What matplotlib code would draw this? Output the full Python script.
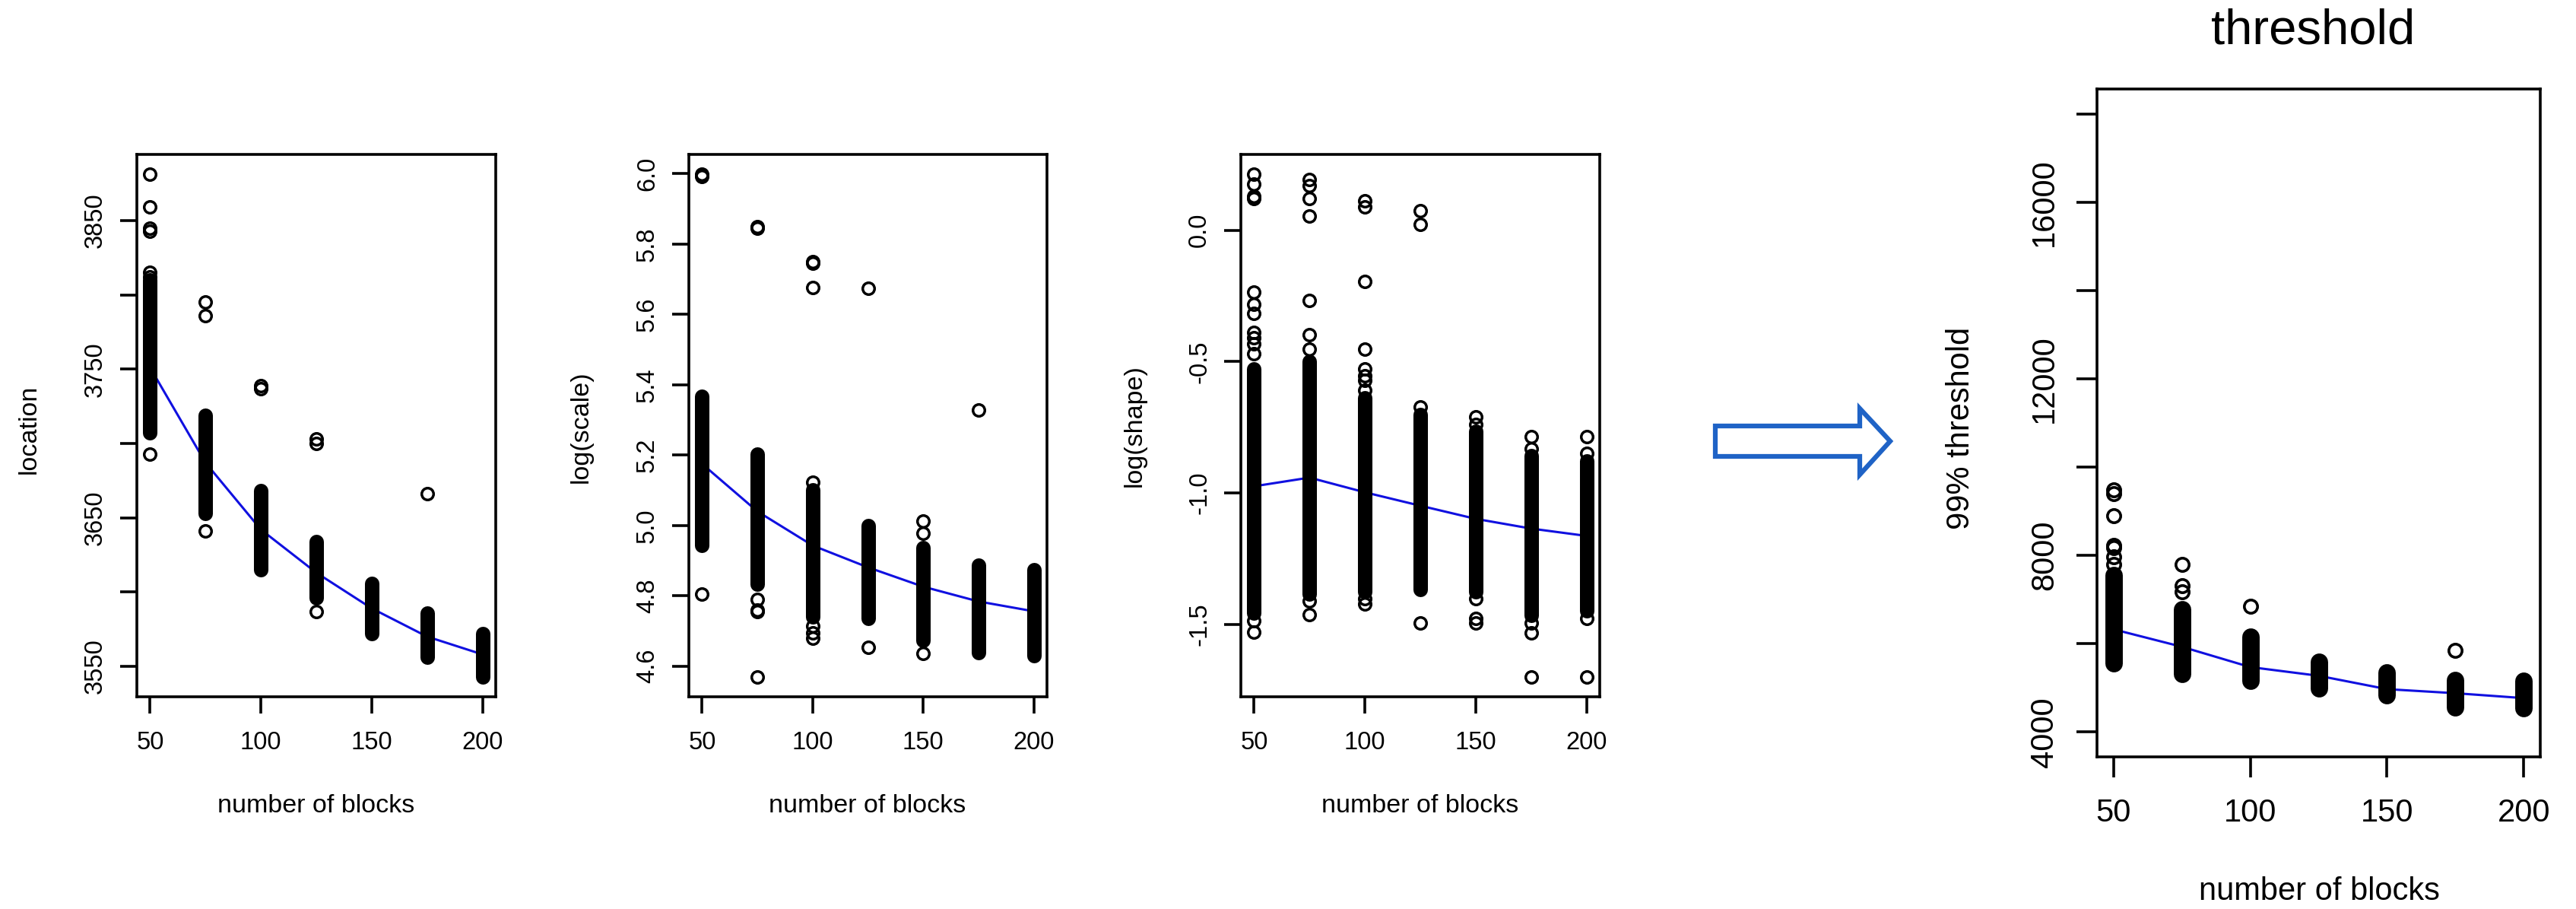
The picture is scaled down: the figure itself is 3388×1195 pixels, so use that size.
"""Parameter estimates vs number of blocks, plus the derived 99% threshold."""
import matplotlib.pyplot as plt
from matplotlib.patches import Polygon

plt.rcParams['font.family'] = ['Liberation Sans', 'DejaVu Sans']

W, H, DPI = 3388, 1195, 100

blocks = [50, 75, 100, 125, 150, 175, 200]

# ---- location ----
loc_mean = [3751, 3687, 3642, 3613, 3589, 3570, 3558]
loc_core_hi = [3810, 3719, 3668, 3634, 3606, 3586, 3572]
loc_core_lo = [3707, 3653, 3615, 3596, 3572, 3556, 3543]
loc_extra = [[3881, 3859, 3845, 3843, 3815, 3812, 3693],
             [3795, 3786, 3641],
             [3739, 3737],
             [3703, 3700, 3587],
             [],
             [3666],
             []]

# ---- log(scale) ----
scale_mean = [5.175, 5.04, 4.943, 4.881, 4.826, 4.784, 4.756]
scale_core_hi = [5.368, 5.202, 5.102, 5.000, 4.936, 4.888, 4.874]
scale_core_lo = [4.944, 4.833, 4.740, 4.736, 4.674, 4.639, 4.629]
scale_extra = [[5.998, 5.992, 4.805],
               [5.850, 5.845, 4.790, 4.760, 4.755, 4.570],
               [5.750, 5.745, 5.677, 5.123, 4.715, 4.694, 4.680],
               [5.675, 4.653],
               [5.013, 4.978, 4.636],
               [5.328],
               []]

# ---- log(shape) ----
shape_mean = [-0.975, -0.942, -0.998, -1.049, -1.099, -1.136, -1.164]
shape_core_hi = [-0.527, -0.499, -0.638, -0.702, -0.767, -0.859, -0.878]
shape_core_lo = [-1.459, -1.385, -1.376, -1.367, -1.376, -1.468, -1.450]
shape_extra = [[0.212, 0.176, 0.130, 0.120, -0.236, -0.281, -0.318, -0.388,
                -0.410, -0.434, -0.471, -1.487, -1.530],
               [0.194, 0.170, 0.120, 0.055, -0.268, -0.397, -0.453,
                -1.413, -1.463],
               [0.111, 0.089, -0.194, -0.453, -0.527, -0.554, -0.573,
                -0.610, -1.404, -1.423],
               [0.074, 0.022, -0.674, -1.496],
               [-0.711, -0.739, -1.404, -1.478, -1.496],
               [-0.785, -0.831, -1.496, -1.533, -1.700],
               [-0.785, -0.850, -1.478, -1.700]]

# ---- 99% threshold ----
thr_mean = [6328, 5933, 5473, 5276, 4973, 4881, 4770]
thr_core_hi = [7560, 6775, 6157, 5592, 5355, 5172, 5155]
thr_core_lo = [5550, 5315, 5157, 4986, 4828, 4560, 4540]
thr_extra = [[9484, 9392, 8892, 8234, 8169, 7971, 7800],
             [7800, 7314, 7182],
             [6854],
             [],
             [],
             [5845],
             []]


def rect(x0, y0, x1, y1):
    """pixel box (top-left origin) -> figure fraction [l, b, w, h]"""
    return [x0 / W, 1 - y1 / H, (x1 - x0) / W, (y1 - y0) / H]


def r_lim(vals, pad=0.04):
    lo, hi = min(vals), max(vals)
    r = hi - lo
    return lo - pad * r, hi + pad * r


def panel(box, mean, hi, lo, extra, yticks, ylabels, ylim=None,
          big=False):
    ax = fig.add_axes(rect(*box))
    msize, mew, barw = (12.5, 2.6, 16.5) if big else (11.2, 2.5, 13.7)
    fs = 30 if big else 23.5
    ax.plot(blocks, mean, color="#1010e0", lw=2.2, zorder=1)
    ax.vlines(blocks, lo, hi, colors="k", linewidth=barw,
              capstyle="round", zorder=2)
    for b, pts in zip(blocks, extra):
        ax.plot([b] * len(pts), pts, "o", mfc="none", mec="k",
                ms=msize, mew=mew, zorder=3)
    ax.set_xlim(44, 206)
    if ylim is None:
        allv = lo + hi + [v for p in extra for v in p]
        ylim = r_lim(allv)
    ax.set_ylim(*ylim)
    ax.set_xticks([50, 100, 150, 200])
    ax.set_xticklabels(["50", "100", "150", "200"])
    ax.set_yticks(yticks)
    ax.set_yticklabels(ylabels)
    for s in ax.spines.values():
        s.set_linewidth(2.6)
    tl = 19.4 if big else 15.5
    ax.tick_params(axis="x", length=tl, width=2.6, labelsize=fs,
                   pad=19.5 if big else 17)
    ax.tick_params(axis="y", length=tl, width=2.6, labelsize=fs,
                   pad=16 if big else 12.5, labelrotation=90)
    for t in ax.get_yticklabels():
        t.set_va("center")
    return ax


fig = plt.figure(figsize=(W / DPI, H / DPI), dpi=DPI)

panel((180, 203, 652, 916), loc_mean, loc_core_hi, loc_core_lo, loc_extra,
      [3550, 3600, 3650, 3700, 3750, 3800, 3850],
      ["3550", "", "3650", "", "3750", "", "3850"])
panel((906, 203, 1377, 916), scale_mean, scale_core_hi, scale_core_lo,
      scale_extra, [4.6, 4.8, 5.0, 5.2, 5.4, 5.6, 5.8, 6.0],
      ["4.6", "4.8", "5.0", "5.2", "5.4", "5.6", "5.8", "6.0"])
panel((1632, 203, 2104, 916), shape_mean, shape_core_hi, shape_core_lo,
      shape_extra, [-1.5, -1.0, -0.5, 0.0],
      ["-1.5", "-1.0", "-0.5", "0.0"])
panel((2758, 117, 3341, 995), thr_mean, thr_core_hi, thr_core_lo,
      thr_extra, list(range(4000, 18001, 2000)),
      ["4000", "", "8000", "", "12000", "", "16000", ""],
      ylim=r_lim([4000, 18000]), big=True)

# axis labels (pixel centres)
for x, y, s in [(38, 564, "location"), (764, 561, "log(scale)"),
                (1492, 560, "log(shape)")]:
    fig.text(x / W, 1 - y / H, s, rotation=90, ha="center", va="center",
             fontsize=24.5)
for x in (416, 1141, 1868):
    fig.text(x / W, 1 - 1060 / H, "number of blocks", ha="center",
             va="center", fontsize=24.5)
fig.text(2579 / W, 1 - 563 / H, "99% threshold", rotation=90, ha="center",
         va="center", fontsize=30)
fig.text(3050 / W, 1 - 1172 / H, "number of blocks", ha="center",
         va="center", fontsize=30)
fig.text(3042 / W, 1 - 40 / H, "threshold", ha="center", va="center",
         fontsize=47)

# block arrow between the parameter panels and the threshold panel
arrow_px = [(2256, 560), (2446, 560), (2446, 537), (2486, 580),
            (2446, 624), (2446, 600), (2256, 600)]
fig.patches.append(Polygon([(x / W, 1 - y / H) for x, y in arrow_px],
                           closed=True, fill=False, edgecolor="#1f63c6",
                           linewidth=4.5, joinstyle="miter",
                           transform=fig.transFigure))

fig.savefig("out.png", dpi=DPI)
